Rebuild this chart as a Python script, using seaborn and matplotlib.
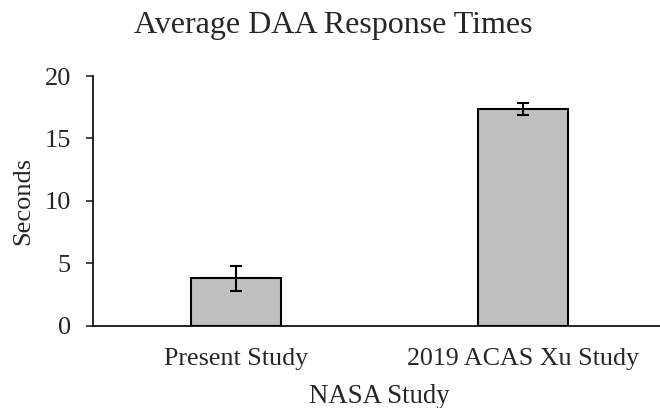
import pandas as pd
import matplotlib.pyplot as plt
import seaborn as sns

# データ
studies = ['Present Study', '2019 ACAS Xu Study']
seconds = [3.8, 17.33]
errors = [1.0, 0.47]

sns.set_style('white')
plt.rcParams['font.family'] = ['Liberation Serif', 'DejaVu Serif']

df = pd.DataFrame({'study': studies, 'seconds': seconds})

fig = plt.figure(figsize=(6.6, 4.08), dpi=100)
ax = fig.add_axes([0.1409, 0.2017, 573 / 660, 0.612])

sns.barplot(data=df, x='study', y='seconds', color='#BFBFBF', saturation=1,
            edgecolor='black', linewidth=1.5, width=0.314, errorbar=None, ax=ax)
ax.errorbar(x=range(len(studies)), y=seconds, yerr=errors, fmt='none',
            ecolor='black', elinewidth=1.5, capsize=4.5, capthick=1.5)

ax.set_xlim(-0.5, 1.5)
ax.set_ylim(0, 20)
ax.set_yticks([0, 5, 10, 15, 20])
# タイトルは図の中央寄り
ax.set_title('Average DAA Response Times', fontsize=23, pad=31, x=0.419)
ax.set_xlabel('NASA Study', fontsize=19.3)
ax.xaxis.set_label_coords(0.5, -0.235)
ax.set_ylabel('Seconds', fontsize=19, labelpad=7)
ax.tick_params(axis='y', labelsize=19, length=5, width=1.2, left=True,
               direction='out', pad=11)
ax.tick_params(axis='x', labelsize=18.75, length=0, pad=16)
sns.despine(ax=ax)
for s in ['left', 'bottom']:
    ax.spines[s].set_linewidth(1.2)
    ax.spines[s].set_color('black')

fig.savefig('out.png', dpi=100)
plt.close()
